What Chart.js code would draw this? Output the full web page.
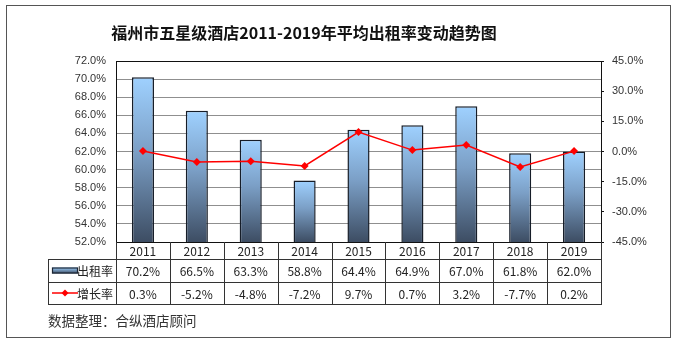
<!DOCTYPE html>
<html lang="zh-CN">
<head>
<meta charset="UTF-8">
<title>福州市五星级酒店2011-2019年平均出租率变动趋势图</title>
<script src="https://cdn.jsdelivr.net/npm/chart.js@4.4.0/dist/chart.umd.min.js"></script>
<style>
    html, body { margin: 0; padding: 0; background: #fff; }
    .wrap { position: relative; width: 677px; height: 344px; }
</style>
</head>
<body>
<div class="wrap"><canvas id="chart" width="677" height="344"></canvas></div>
<script>
// data
const years = ['2011', '2012', '2013', '2014', '2015', '2016', '2017', '2018', '2019'];
const occupancy = [70.2, 66.5, 63.3, 58.8, 64.4, 64.9, 67.0, 61.8, 62.0];
const growth = [0.3, -5.2, -4.8, -7.2, 9.7, 0.7, 3.2, -7.7, 0.2];
const seriesNames = ['出租率', '增长率'];
const titleText = '福州市五星级酒店2011-2019年平均出租率变动趋势图';
const sourceText = '数据整理：合纵酒店顾问';

const CJK = '"Noto Sans CJK SC", "Noto Sans", sans-serif';
const pct = v => v.toFixed(1) + '%';

function barGradient(context) {
    const chart = context.chart;
    const area = chart.chartArea;
    if (!area) return '#7aa6d6';
    const top = chart.scales.y.getPixelForValue(context.raw);
    const g = chart.ctx.createLinearGradient(0, top, 0, area.bottom);
    g.addColorStop(0, '#9fd1ff');
    g.addColorStop(0.45, '#7b9fc6');
    g.addColorStop(1, '#3d4d63');
    return g;
}

// title, frame, data table and source line
const decorations = {
    id: 'decorations',
    afterDraw(chart) {
        const { ctx, chartArea: a } = chart;
        const n = years.length;
        const colW = (a.right - a.left) / n;
        const tableLeft = 48;
        const rows = [a.bottom, 259, 282, 304];

        ctx.save();
        // outer frame
        ctx.strokeStyle = '#555';
        ctx.lineWidth = 1;
        ctx.strokeRect(6.5, 5.5, 664, 332);

        // plot frame
        ctx.strokeStyle = '#111';
        ctx.strokeRect(Math.round(a.left) + 0.5, Math.round(a.top) + 0.5,
            Math.round(a.right - a.left), Math.round(a.bottom - a.top));

        // title
        ctx.fillStyle = '#111';
        ctx.font = 'bold 16px ' + CJK;
        ctx.textAlign = 'center';
        ctx.textBaseline = 'middle';
        ctx.fillText(titleText, 304, 33);

        // table lines
        ctx.strokeStyle = '#333';
        ctx.beginPath();
        for (let r = 1; r < rows.length; r++) {
            ctx.moveTo(tableLeft, rows[r] + 0.5);
            ctx.lineTo(Math.round(a.right) + 1, rows[r] + 0.5);
        }
        ctx.moveTo(tableLeft + 0.5, rows[1]);
        ctx.lineTo(tableLeft + 0.5, rows[3]);
        for (let i = 0; i <= n; i++) {
            const x = Math.round(a.left + i * colW) + 0.5;
            ctx.moveTo(x, a.bottom);
            ctx.lineTo(x, rows[3]);
        }
        ctx.stroke();

        // table text
        ctx.fillStyle = '#222';
        ctx.font = '12px ' + CJK;
        ctx.textAlign = 'center';
        for (let i = 0; i < n; i++) {
            const cx = a.left + (i + 0.5) * colW;
            ctx.fillText(years[i], cx, (rows[0] + rows[1]) / 2 + 1);
            ctx.fillText(pct(occupancy[i]), cx, (rows[1] + rows[2]) / 2 + 1);
            ctx.fillText(pct(growth[i]), cx, (rows[2] + rows[3]) / 2 + 1);
        }

        // legend keys in the table
        const y1 = (rows[1] + rows[2]) / 2;
        const y2 = (rows[2] + rows[3]) / 2;
        const kg = ctx.createLinearGradient(0, y1 - 3, 0, y1 + 3);
        kg.addColorStop(0, '#9fd1ff');
        kg.addColorStop(1, '#3d4d63');
        ctx.fillStyle = kg;
        ctx.fillRect(52, y1 - 3, 26, 6);
        ctx.strokeStyle = '#1c2533';
        ctx.lineWidth = 1.2;
        ctx.strokeRect(52.5, y1 - 2.5, 25, 5);

        ctx.strokeStyle = '#ff0000';
        ctx.lineWidth = 1.5;
        ctx.beginPath();
        ctx.moveTo(52, y2);
        ctx.lineTo(78, y2);
        ctx.stroke();
        ctx.fillStyle = '#ff0000';
        ctx.beginPath();
        ctx.moveTo(65, y2 - 3.5);
        ctx.lineTo(68.5, y2);
        ctx.lineTo(65, y2 + 3.5);
        ctx.lineTo(61.5, y2);
        ctx.closePath();
        ctx.fill();

        ctx.fillStyle = '#222';
        ctx.font = '12px ' + CJK;
        ctx.textAlign = 'right';
        ctx.fillText(seriesNames[0], a.left - 3, y1 + 1);
        ctx.fillText(seriesNames[1], a.left - 3, y2 + 1);

        // source
        ctx.textAlign = 'left';
        ctx.font = '13.5px ' + CJK;
        ctx.fillStyle = '#333';
        ctx.fillText(sourceText, 48, 321);
        ctx.restore();
    }
};

new Chart(document.getElementById('chart'), {
    data: {
        labels: years,
        datasets: [
            {
                type: 'line',
                label: seriesNames[1],
                data: growth,
                yAxisID: 'y2',
                borderColor: '#ff0000',
                backgroundColor: '#ff0000',
                borderWidth: 1.5,
                pointStyle: 'rectRot',
                pointRadius: 4,
                pointBorderWidth: 0,
                tension: 0,
                order: 0
            },
            {
                type: 'bar',
                label: seriesNames[0],
                data: occupancy,
                yAxisID: 'y',
                backgroundColor: barGradient,
                borderColor: '#161d28',
                borderWidth: 1.5,
                borderSkipped: 'bottom',
                categoryPercentage: 1,
                barPercentage: 0.41,
                order: 1
            }
        ]
    },
    options: {
        responsive: false,
        animation: false,
        devicePixelRatio: 1,
        layout: { padding: { left: 0, right: 0, top: 61, bottom: 102 } },
        plugins: {
            legend: { display: false },
            tooltip: { enabled: false },
            title: { display: false }
        },
        scales: {
            x: { display: false },
            y: {
                position: 'left',
                min: 52,
                max: 72,
                afterFit: s => { s.width = 116; },
                ticks: {
                    stepSize: 2,
                    padding: 10,
                    color: '#333',
                    font: { family: '"Liberation Sans", Arial, sans-serif', size: 11 },
                    callback: v => pct(v)
                },
                grid: { color: '#8f8f8f', lineWidth: 1, drawTicks: false },
                border: { display: false }
            },
            y2: {
                position: 'right',
                min: -45,
                max: 45,
                afterFit: s => { s.width = 76; },
                ticks: {
                    stepSize: 15,
                    padding: 8,
                    color: '#333',
                    font: { family: '"Liberation Sans", Arial, sans-serif', size: 11 },
                    callback: v => pct(v)
                },
                grid: { drawOnChartArea: false, tickLength: 3, color: '#111' },
                border: { display: false }
            }
        }
    },
    plugins: [decorations]
});
</script>
</body>
</html>
